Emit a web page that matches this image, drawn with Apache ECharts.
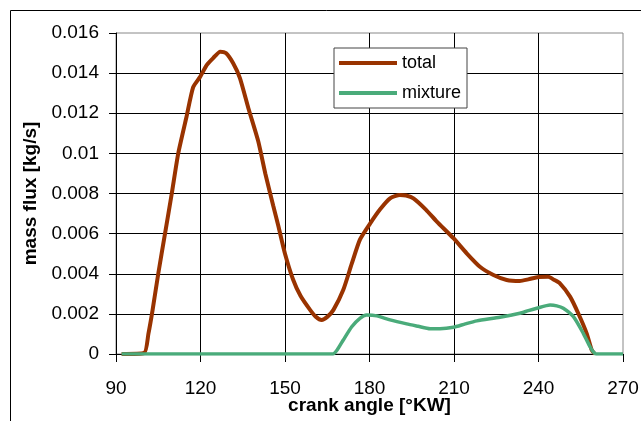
<!DOCTYPE html>
<html>
<head>
<meta charset="utf-8">
<script src="https://cdn.jsdelivr.net/npm/echarts@6/dist/echarts.min.js"></script>
<style>html,body{margin:0;padding:0;background:#fff}#c{width:641px;height:421px}</style>
</head>
<body>
<div id="c"></div>
<script>
var xTicks = [90, 120, 150, 180, 210, 240, 270];
var yTickLabels = ['0', '0.002', '0.004', '0.006', '0.008', '0.01', '0.012', '0.014', '0.016'];

var totalAngles = [92,100,101.5,103,105,107.4,109.8,112.1,115,117.4,119.8,122.2,124.5,127,129,131.6,134,137,140.5,143,145.8,147.6,150,152.9,155.5,158.9,161,163,165,167.2,170.7,173.7,176.6,180.2,183.7,187.3,190.8,193,195.6,200,203.9,209.8,214.5,219.2,224,228.7,233.4,236.4,240,243.5,245.5,247.6,251.2,254.1,257.1,258.9,260];
var totalValues = [0,0.00005,0.001,0.0022,0.004,0.006,0.008,0.01,0.0118,0.0133,0.0138,0.0144,0.01475,0.01507,0.015,0.01449,0.01375,0.01225,0.0106,0.009,0.0074,0.0064,0.005,0.0037,0.0029,0.0022,0.00185,0.0017,0.00185,0.0022,0.0032,0.0045,0.0057,0.0065,0.0072,0.00776,0.00793,0.0079,0.00776,0.0072,0.0066,0.00577,0.00502,0.00435,0.00394,0.00369,0.00364,0.00372,0.00384,0.00385,0.0037,0.00352,0.00286,0.00203,0.00103,0.0002,0];

var mixtureAngles = [92,167,168.5,170.7,173.7,176.6,179,182.6,187.3,193.2,197.3,201.5,205,209.8,214,218.1,226.3,233.4,236.4,239.4,244.1,246.5,248.8,252.4,255.9,258.3,259.5,260.5,270];
var mixtureValues = [0,0,0.0002,0.0007,0.00136,0.00178,0.00194,0.0019,0.0017,0.0015,0.00138,0.00126,0.00126,0.00133,0.0015,0.00165,0.00183,0.00203,0.00216,0.00228,0.00244,0.0024,0.00228,0.00186,0.00103,0.00036,0.0001,0,0];

function pairs(xs, ys) { return xs.map(function (x, i) { return [x, ys[i]]; }); }

var FONT = 'Liberation Sans, Arial, sans-serif';
var chart = echarts.init(document.getElementById('c'), null, { renderer: 'canvas' });
chart.setOption({
  animation: false,
  backgroundColor: '#fff',
  textStyle: { fontFamily: FONT },
  graphic: [{
    type: 'rect', silent: true, z: -10,
    shape: { x: 10.5, y: 10.5, width: 700, height: 500 },
    style: { fill: 'none', stroke: '#000', lineWidth: 1 }
  }],
  grid: { left: 116, top: 33, right: 18, bottom: 67, show: true, borderColor: '#888', borderWidth: 1,
    backgroundColor: 'transparent', containLabel: false, outerBoundsMode: 'none' },
  legend: {
    left: 334, top: 48, orient: 'vertical',
    padding: [6, 6, 6, 5], itemGap: 12,
    itemWidth: 58, itemHeight: 4, icon: 'rect',
    backgroundColor: '#fff', borderColor: '#444', borderWidth: 1,
    textStyle: { fontFamily: FONT, fontSize: 18, color: '#000' },
    data: ['total', 'mixture']
  },
  xAxis: {
    type: 'value', min: 90, max: 270, interval: 30,
    name: 'crank angle [°KW]', nameLocation: 'middle', nameGap: 42, nameMoveOverlap: false,
    nameTextStyle: { fontFamily: FONT, fontSize: 19, fontWeight: 'bold', color: '#000' },
    axisLine: { lineStyle: { color: '#000', width: 1 } },
    axisTick: { show: true, length: 8, lineStyle: { color: '#000' } },
    axisLabel: { fontFamily: FONT, fontSize: 19, color: '#000', margin: 25,
      formatter: function (v) { return xTicks.indexOf(v) >= 0 ? String(v) : ''; } },
    splitLine: { show: true, showMinLine: false, showMaxLine: false, lineStyle: { color: '#000', width: 1 } }
  },
  yAxis: {
    type: 'value', min: 0, max: 0.016, interval: 0.002,
    name: 'mass flux [kg/s]', nameLocation: 'middle', nameGap: 76, nameMoveOverlap: false,
    nameTextStyle: { fontFamily: FONT, fontSize: 19, fontWeight: 'bold', color: '#000' },
    axisLine: { show: true, lineStyle: { color: '#000', width: 1 } },
    axisTick: { show: true, length: 7, lineStyle: { color: '#000' } },
    axisLabel: { fontFamily: FONT, fontSize: 19, color: '#000', margin: 17,
      formatter: function (v) { return yTickLabels[Math.round(v / 0.002)]; } },
    splitLine: { show: true, showMinLine: false, showMaxLine: false, lineStyle: { color: '#000', width: 1 } }
  },
  series: [
    { name: 'total', type: 'line', data: pairs(totalAngles, totalValues), showSymbol: false, symbol: 'none',
      smooth: 0.2, color: '#993300', lineStyle: { color: '#993300', width: 4 }, z: 3 },
    { name: 'mixture', type: 'line', data: pairs(mixtureAngles, mixtureValues), showSymbol: false, symbol: 'none',
      smooth: 0.2, color: '#4aab7a', lineStyle: { color: '#4aab7a', width: 3.5 }, z: 4 }
  ]
});
</script>
</body>
</html>
